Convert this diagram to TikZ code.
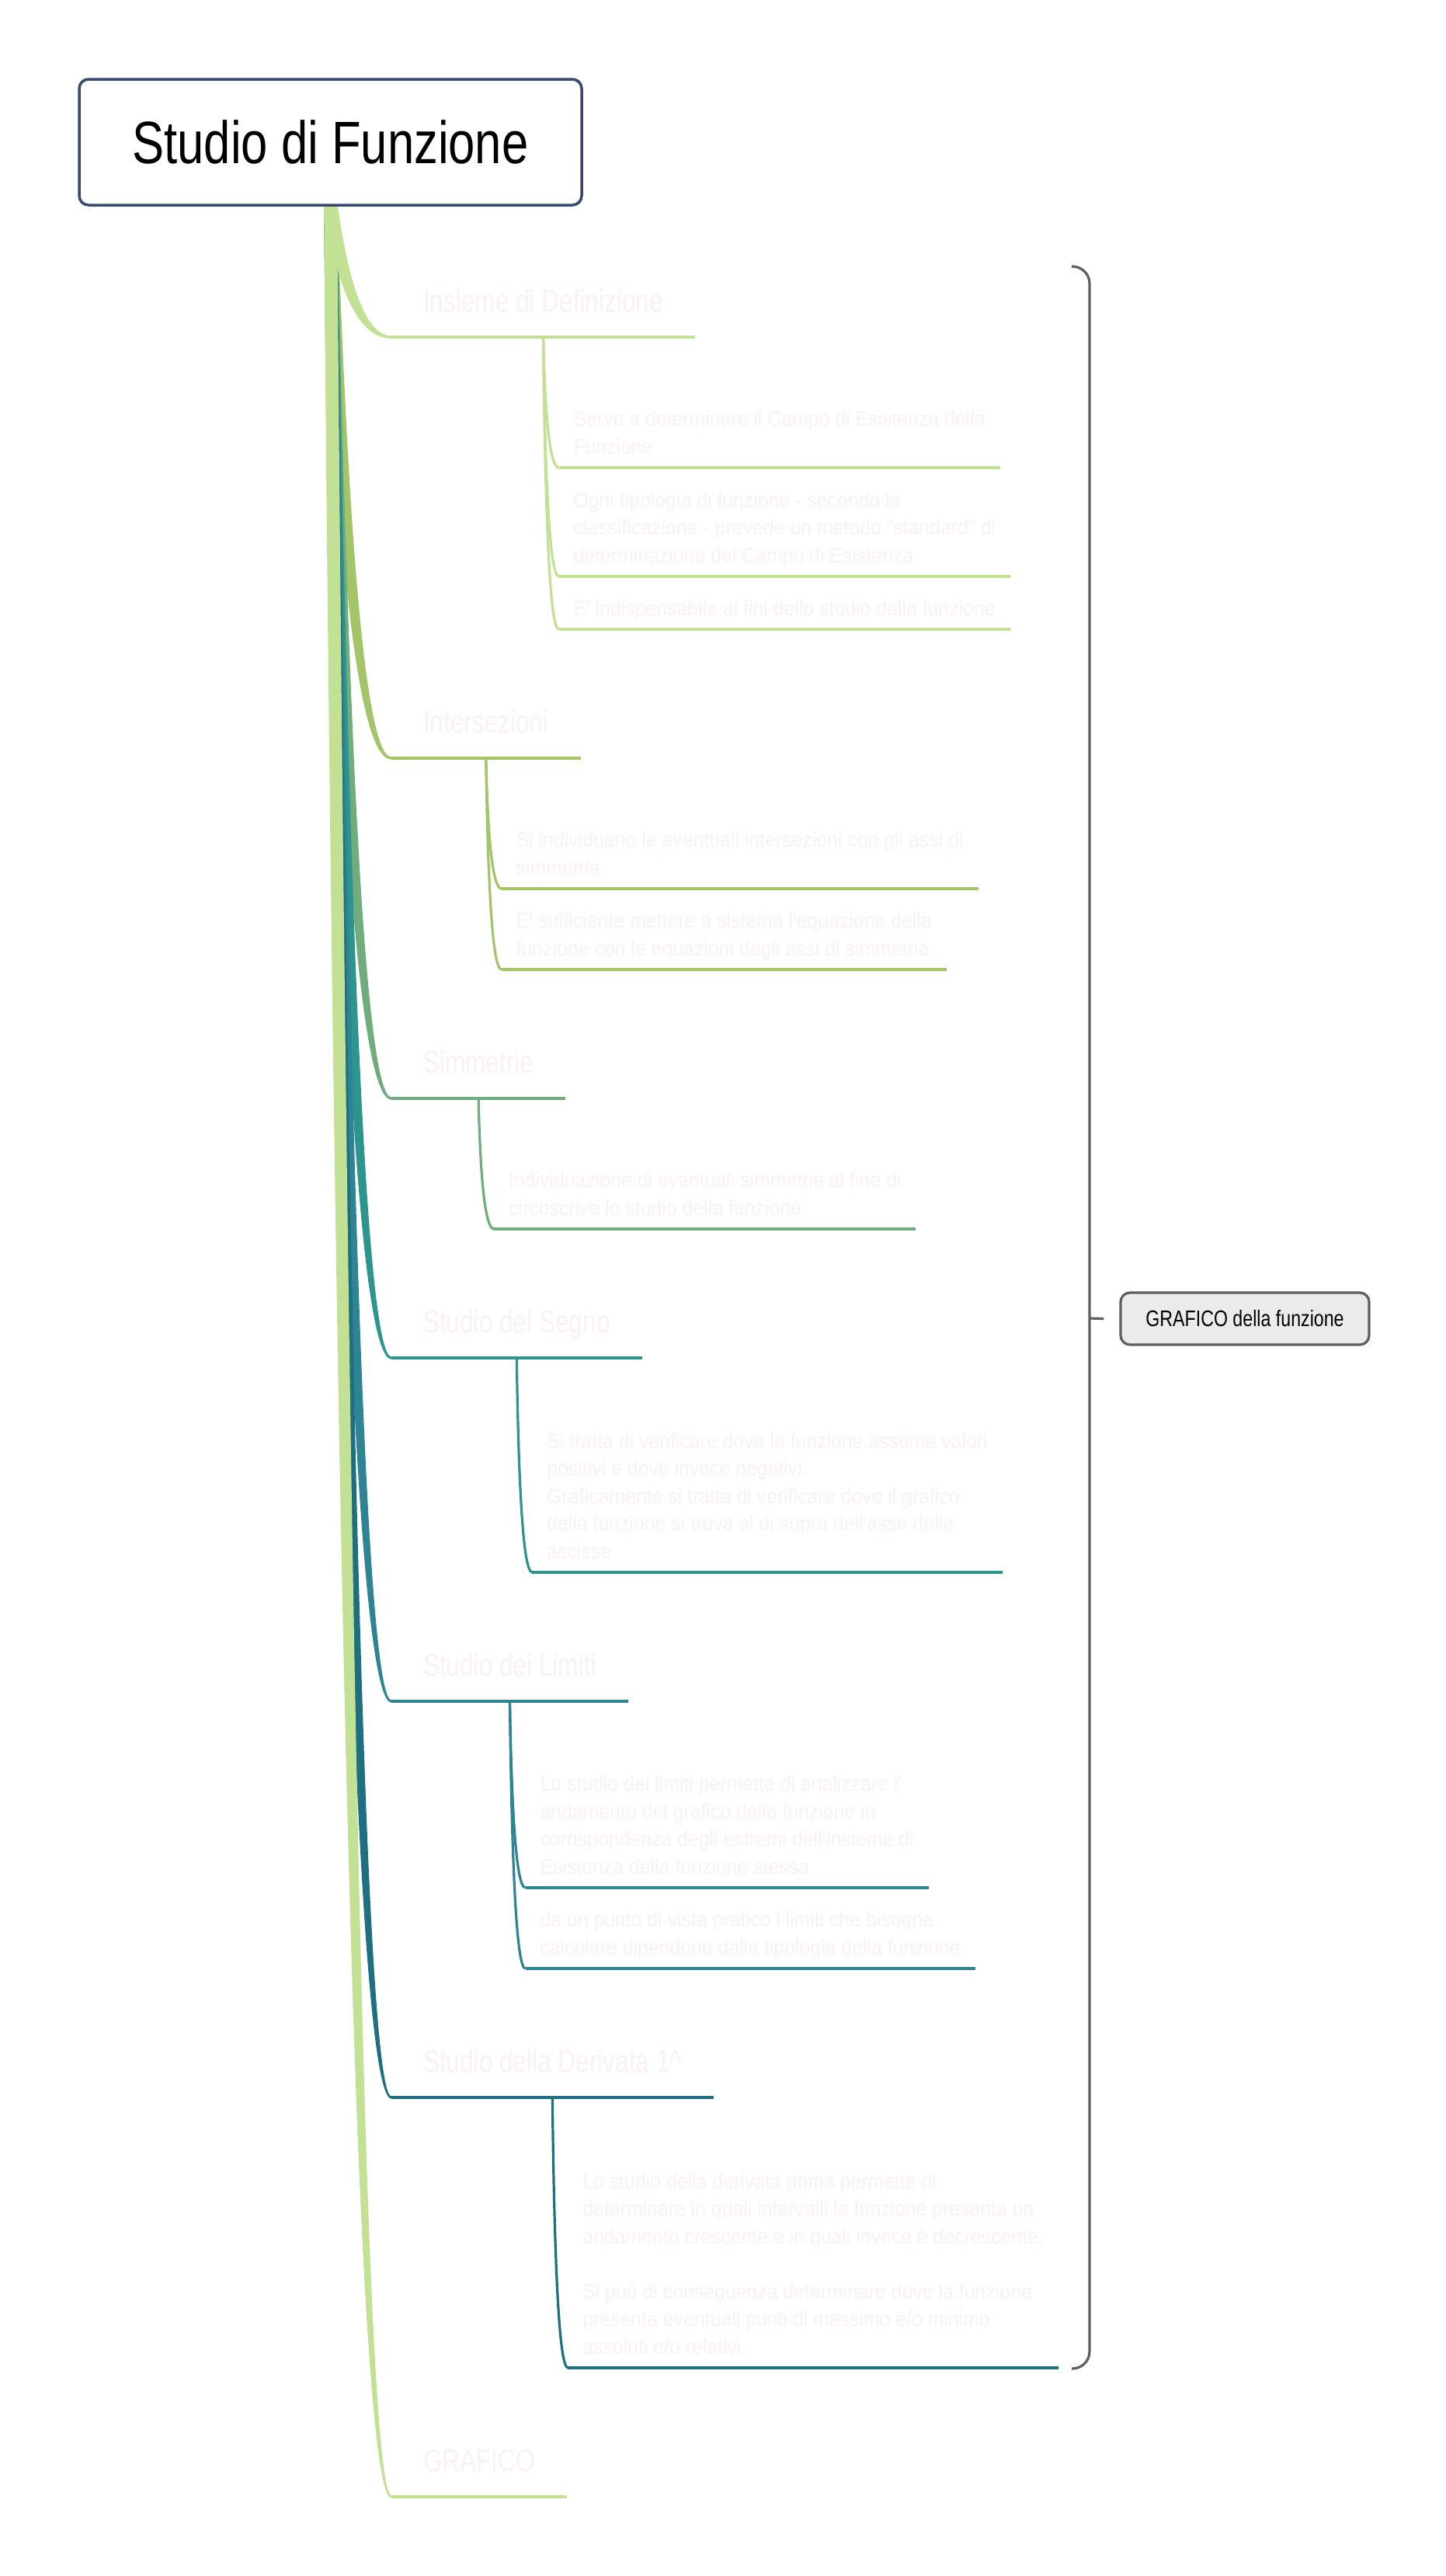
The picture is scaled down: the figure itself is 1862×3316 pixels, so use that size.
\documentclass[tikz,border=0pt]{standalone}
\usepackage{fontspec}
\setmainfont{Liberation Sans}[FakeStretch=0.80]
\newfontfamily\topicfont{Liberation Sans}[FakeStretch=0.78]
\newfontfamily\leaffont{Liberation Sans}[FakeStretch=0.92]
\usetikzlibrary{calc,backgrounds}

\definecolor{cLime}{RGB}{195,225,148}
\definecolor{cGreen}{RGB}{163,196,104}
\definecolor{cSage}{RGB}{112,172,124}
\definecolor{cTeal}{RGB}{45,148,142}
\definecolor{cSea}{RGB}{47,132,148}
\definecolor{cPetrol}{RGB}{30,112,128}
\definecolor{ghost}{RGB}{252,240,243}
\definecolor{rootedge}{RGB}{54,73,111}
\definecolor{sumgray}{RGB}{95,95,95}
\definecolor{sumfill}{RGB}{235,235,235}

\tikzset{
  rootbox/.style={draw=rootedge, line width=3.5pt, rounded corners=12pt, fill=white,
    minimum width=647pt, minimum height=162pt, inner sep=0pt,
    font=\fontsize{77}{90}\selectfont},
  topic/.style={anchor=south west, inner xsep=41pt, inner ysep=33pt, text depth=0pt,
    outer sep=0pt, text=ghost, font=\topicfont\fontsize{40.5}{48}\selectfont},
  leaf/.style={anchor=south west, inner xsep=19pt, inner ysep=18pt, text depth=0pt,
    outer sep=0pt, text=ghost, align=left, font=\leaffont\fontsize{27}{35.5}\selectfont},
  wire/.style={line width=3.2pt, line cap=butt},
  sumbox/.style={draw=sumgray, fill=sumfill, line width=3.2pt, rounded corners=12pt,
    minimum width=320pt, minimum height=67pt, inner sep=0pt,
    font=\fontsize{29}{34}\selectfont},
  sumline/.style={draw=sumgray, line width=3.2pt},
}

% tapered band from the root to the start of a topic underline
\newcommand\branchband[2]{%
  \coordinate (bR) at ($(root.south)+(8.5,-6)$);
  \coordinate (bL) at ($(root.south)+(-8.5,-6)$);
  \coordinate (eR) at ($(#1.south west)+(0,-1.6)$);
  \coordinate (eL) at ($(#1.south west)+(0,1.6)$);
  \coordinate (qR) at (458,0 |- eR);
  \coordinate (qL) at (442,0 |- eL);
  \fill[#2] (bR) .. controls ($(bR)!2/3!(qR)$) and ($(eR)!2/3!(qR)$) .. (eR)
    -- (eL) .. controls ($(eL)!2/3!(qL)$) and ($(bL)!2/3!(qL)$) .. (bL) -- cycle;
}

% curved connector from a topic underline to a leaf, plus the leaf underline
\newcommand\twig[3]{%
  \coordinate (tq) at ($(#1.south |- #2.south west)+(4,0)$);
  \draw[wire,#3] (#1.south) .. controls ($(#1.south)!2/3!(tq)$) and ($(#2.south west)!2/3!(tq)$) .. (#2.south west);
  \draw[wire,#3] (#2.south west) -- (#2.south east);
}

\begin{document}
\begin{tikzpicture}[x=1pt, y=-1pt]
\useasboundingbox (0,0) rectangle (1862,3316);

% central topic
\node[rootbox] (root) at (425.5,183) {Studio di Funzione};

% main topics
\node[topic] (t1) at (504,434)  {Insieme di Definizione};
\node[topic] (t2) at (504,976)  {Intersezioni};
\node[topic] (t3) at (504,1414) {Simmetrie};
\node[topic] (t4) at (504,1748) {Studio del Segno};
\node[topic] (t5) at (504,2190) {Studio dei Limiti};
\node[topic] (t6) at (504,2700) {Studio della Derivata 1\textasciicircum};
\node[topic] (t7) at (504,3214) {GRAFICO};

\draw[wire,cLime]   (t1.south west) -- (t1.south east);
\draw[wire,cGreen]  (t2.south west) -- (t2.south east);
\draw[wire,cSage]   (t3.south west) -- (t3.south east);
\draw[wire,cTeal]   (t4.south west) -- (t4.south east);
\draw[wire,cSea]    (t5.south west) -- (t5.south east);
\draw[wire,cPetrol] (t6.south west) -- (t6.south east);
\draw[wire,cLime]   (t7.south west) -- (t7.south east);

% details
\node[leaf] (c11) at ($(t1.south |- 0,602)+(20,0)$)
  {Serve a determinare il Campo di Esistenza della\\Funzione};
\node[leaf] (c12) at ($(t1.south |- 0,742)+(20,0)$)
  {Ogni tipologia di funzione - secondo la\\classificazione - prevede un metodo "standard" di\\determinazione del Campo di Esistenza};
\node[leaf] (c13) at ($(t1.south |- 0,810)+(20,0)$)
  {E' indispensabile ai fini dello studio della funzione};

\node[leaf] (c21) at ($(t2.south |- 0,1144)+(20,0)$)
  {Si individuano le eventuali intersezioni con gli assi di\\simmetria};
\node[leaf] (c22) at ($(t2.south |- 0,1248)+(20,0)$)
  {E' sufficiente mettere a sistema l'equazione della\\funzione con le equazioni degli assi di simmetria};

\node[leaf] (c31) at ($(t3.south |- 0,1582)+(20,0)$)
  {Individuazione di eventuali simmetrie al fine di\\circoscrive lo studio della funzione};

\node[leaf] (c41) at ($(t4.south |- 0,2024)+(20,0)$)
  {Si tratta di verificare dove la funzione assume valori\\positivi e dove invece negativi.\\Graficamente si tratta di verificare dove il grafico\\della funzione si trova al di sopra dell'asse delle\\ascisse};

\node[leaf] (c51) at ($(t5.south |- 0,2430)+(20,0)$)
  {Lo studio dei limiti permette di analizzare l'\\andamento del grafico della funzione in\\corrispondenza degli estremi dell'Insieme di\\Esistenza della funzione stessa};
\node[leaf] (c52) at ($(t5.south |- 0,2534)+(20,0)$)
  {da un punto di vista pratico i limiti che bisogna\\calcolare dipendono dalla tipologia della funzione};

\node[leaf] (c61) at ($(t6.south |- 0,3048)+(20,0)$)
  {Lo studio della derivata prima permette di\\determinare in quali intervalli la funzione presenta un\\andamento crescente e in quali invece è decrescente.\\[35.5pt]Si può di conseguenza determinare dove la funzione\\presenta eventuali punti di massimo e/o minimo\\assoluti e/o relativi.};

\twig{t1}{c11}{cLime}
\twig{t1}{c12}{cLime}
\twig{t1}{c13}{cLime}
\twig{t2}{c21}{cGreen}
\twig{t2}{c22}{cGreen}
\twig{t3}{c31}{cSage}
\twig{t4}{c41}{cTeal}
\twig{t5}{c51}{cSea}
\twig{t5}{c52}{cSea}
\twig{t6}{c61}{cPetrol}

% summary bracket
\coordinate (sTop) at (1380,343);
\coordinate (sBot) at (1380,3049);
\coordinate (sMid) at (1403,1697);
\draw[sumline, rounded corners=22pt] (sTop) -- (1403,343) -- (1403,3049) -- (sBot);
\node[sumbox] (sum) at (1603,1697.5) {GRAFICO della funzione};
\coordinate (sTip) at ($(sum.west)+(-20,0)$);
\draw[sumline] (sMid) -- (sTip);

% tapered branches behind everything
\begin{scope}[on background layer]
  \fill[white] (0,0) rectangle (1862,3316);
  \branchband{t2}{cGreen}
  \branchband{t3}{cSage}
  \branchband{t4}{cTeal}
  \branchband{t5}{cSea}
  \branchband{t6}{cPetrol}
  \branchband{t7}{cLime}
  \branchband{t1}{cLime}
\end{scope}
\end{tikzpicture}
\end{document}
